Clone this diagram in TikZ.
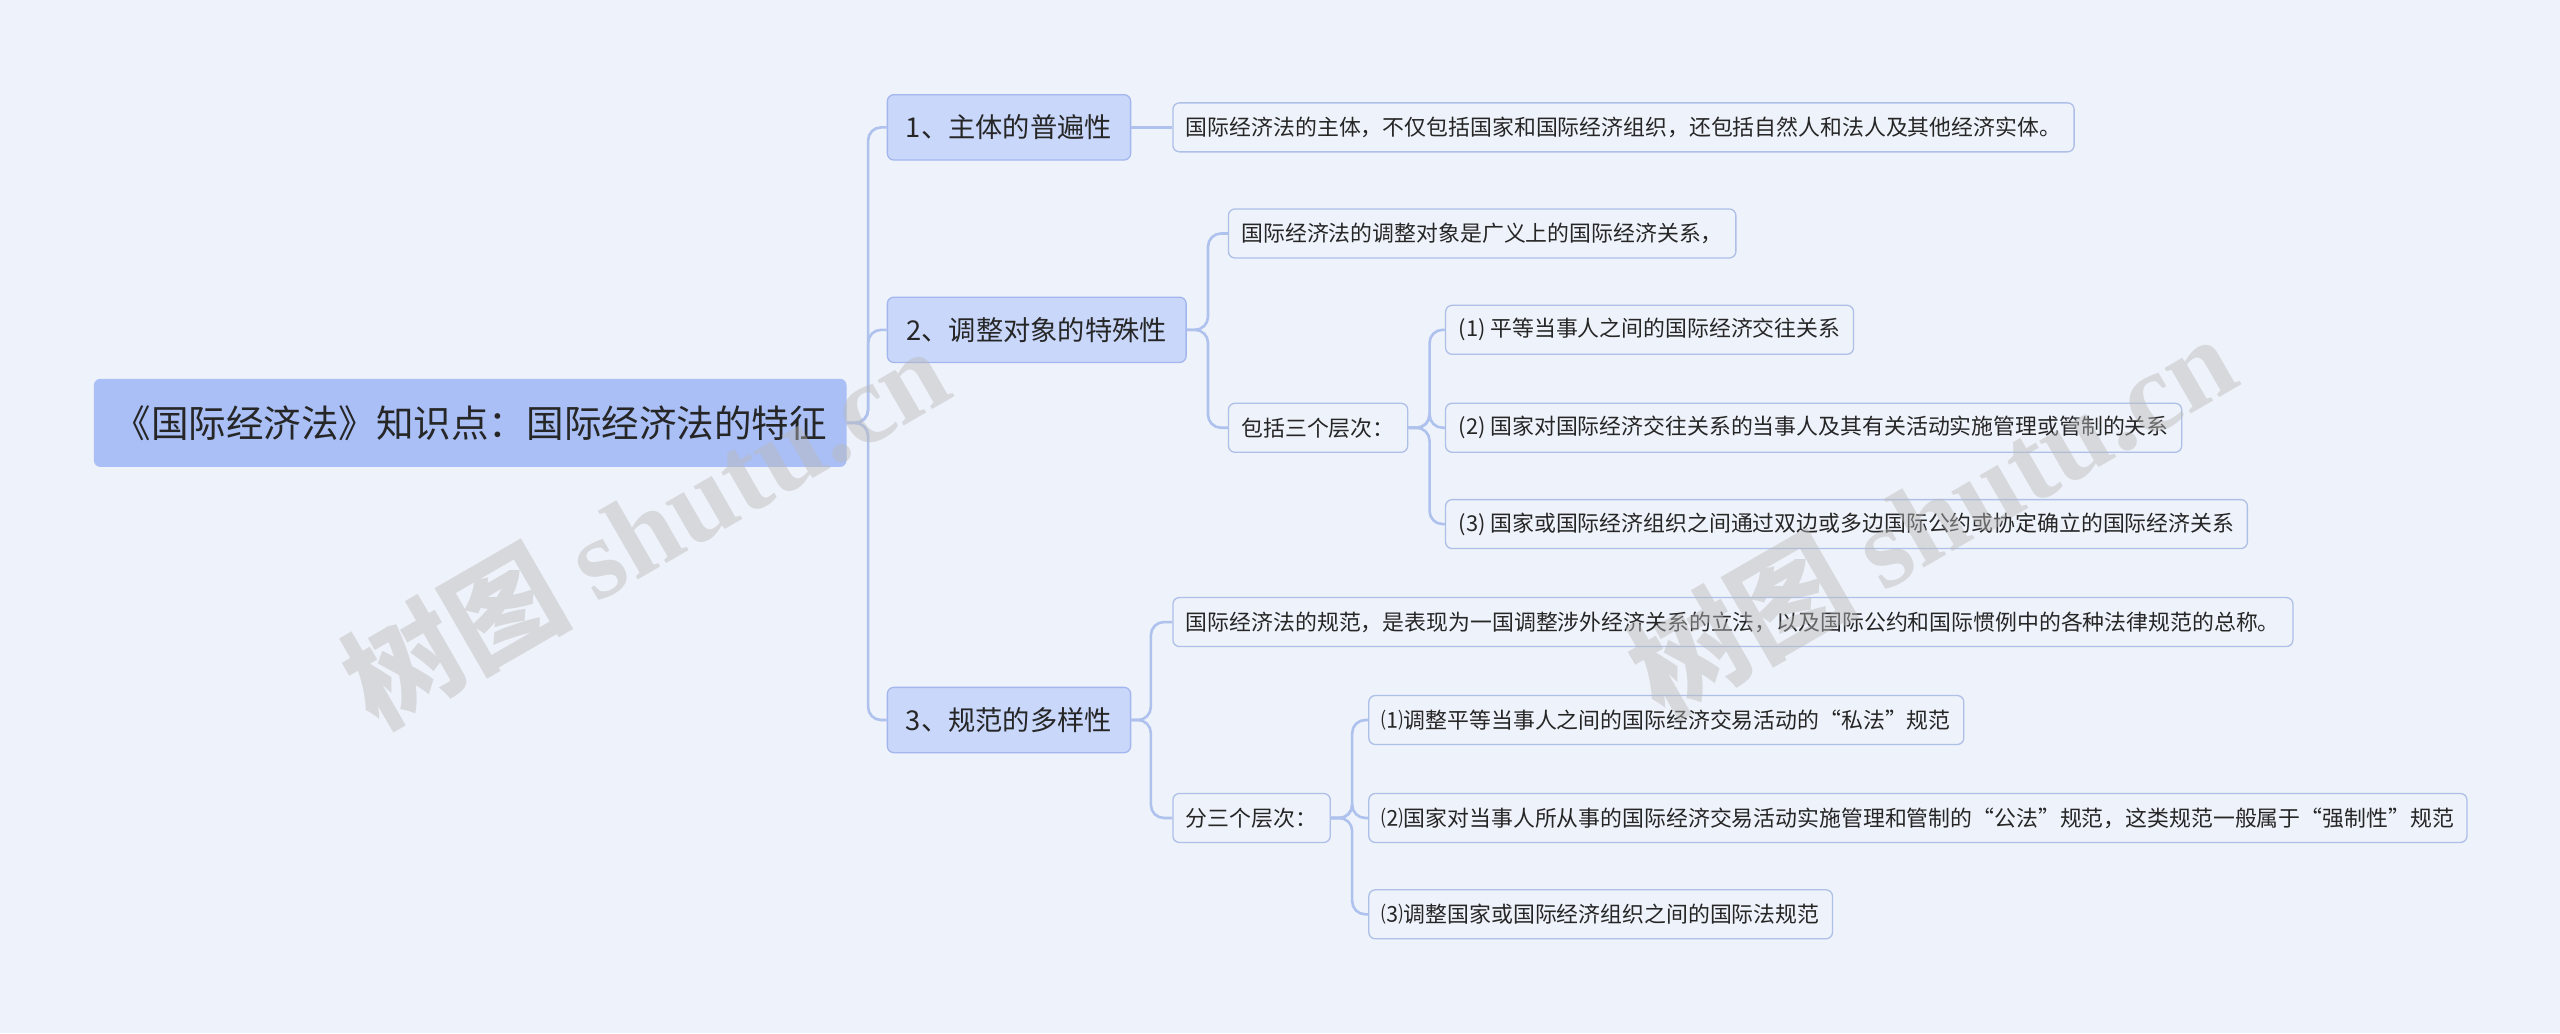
\documentclass[tikz,border=0pt]{standalone}
\usepackage{fontspec}
\setmainfont{Noto Sans CJK SC}
\newfontfamily\wmfont{Liberation Serif}
\definecolor{bg}{HTML}{EEF2FA}
\definecolor{rootc}{HTML}{A9BFF6}
\definecolor{l1c}{HTML}{C9D7FA}
\definecolor{l1b}{HTML}{A3B7EE}
\definecolor{leafb}{HTML}{AEC0E8}
\definecolor{linec}{HTML}{AFC2EE}
\definecolor{txt}{HTML}{262626}
\tikzset{
 rootbox/.style={fill=rootc,rounded corners=4pt,minimum width=461pt,minimum height=54pt,font=\fontsize{23pt}{27pt}\selectfont,text=txt},
 lvbox/.style={fill=l1c,draw=l1b,line width=0.8pt,rounded corners=4pt,minimum height=40pt,inner xsep=9pt,font=\fontsize{16.7pt}{20pt}\selectfont,text=txt},
 leaf/.style={fill=bg,draw=leafb,line width=0.8pt,rounded corners=4pt,minimum height=30pt,inner xsep=8pt,font=\fontsize{13.4pt}{16pt}\selectfont,text=txt},
 conn/.style={draw=linec,line width=1.6pt,rounded corners=8pt},
 wm/.style={text=gray!55,opacity=0.45,rotate=30,font=\fontsize{70pt}{78pt}\selectfont\bfseries}
}
\begin{document}
\begin{tikzpicture}[x=1pt,y=-1pt]
\fill[bg] (0,0) rectangle (1568,633);
\useasboundingbox (0,0) rectangle (1568,633);
\node[rootbox] (root) at (288,259) {《国际经济法》知识点：国际经济法的特征};
\node[lvbox,minimum width=149pt] (n1) at (618,78) {1、主体的普遍性};
\node[lvbox,minimum width=183pt] (n2) at (635,202) {2、调整对象的特殊性};
\node[lvbox,minimum width=149pt] (n3) at (618,441) {3、规范的多样性};
\node[leaf,anchor=west] (l1) at (718,78) {国际经济法的主体，不仅包括国家和国际经济组织，还包括自然人和法人及其他经济实体。};
\node[leaf,anchor=west] (l2a) at (752,143) {国际经济法的调整对象是广义上的国际经济关系，};
\node[leaf,anchor=west] (l2b) at (752,262) {包括三个层次：};
\node[leaf,anchor=west] (l2b1) at (885,202) {(1) 平等当事人之间的国际经济交往关系};
\node[leaf,anchor=west] (l2b2) at (885,262) {(2) 国家对国际经济交往关系的当事人及其有关活动实施管理或管制的关系};
\node[leaf,anchor=west] (l2b3) at (885,321) {(3) 国家或国际经济组织之间通过双边或多边国际公约或协定确立的国际经济关系};
\node[leaf,anchor=west] (l3a) at (718,381) {国际经济法的规范，是表现为一国调整涉外经济关系的立法，以及国际公约和国际惯例中的各种法律规范的总称。};
\node[leaf,anchor=west] (l3b) at (718,501) {分三个层次：};
\node[leaf,anchor=west] (l3b1) at (838,441) {⑴调整平等当事人之间的国际经济交易活动的“私法”规范};
\node[leaf,anchor=west] (l3b2) at (838,501) {⑵国家对当事人所从事的国际经济交易活动实施管理和管制的“公法”规范，这类规范一般属于“强制性”规范};
\node[leaf,anchor=west] (l3b3) at (838,560) {⑶调整国家或国际经济组织之间的国际法规范};
\foreach \c in {n1,n2,n3} \draw[conn] (root.east) -- ++(13,0) |- (\c.west);
\draw[conn] (n1.east) -- (l1.west);
\foreach \c in {l2a,l2b} \draw[conn] (n2.east) -- ++(13,0) |- (\c.west);
\foreach \c in {l2b1,l2b2,l2b3} \draw[conn] (l2b.east) -- ++(13,0) |- (\c.west);
\foreach \c in {l3a,l3b} \draw[conn] (n3.east) -- ++(12,0) |- (\c.west);
\foreach \c in {l3b1,l3b2,l3b3} \draw[conn] (l3b.east) -- ++(13,0) |- (\c.west);
\node[wm] (w1) at (395,322) {树图 \wmfont shutu.cn};
\node[wm] (w2) at (1183,315) {树图 \wmfont shutu.cn};
\end{tikzpicture}
\end{document}
